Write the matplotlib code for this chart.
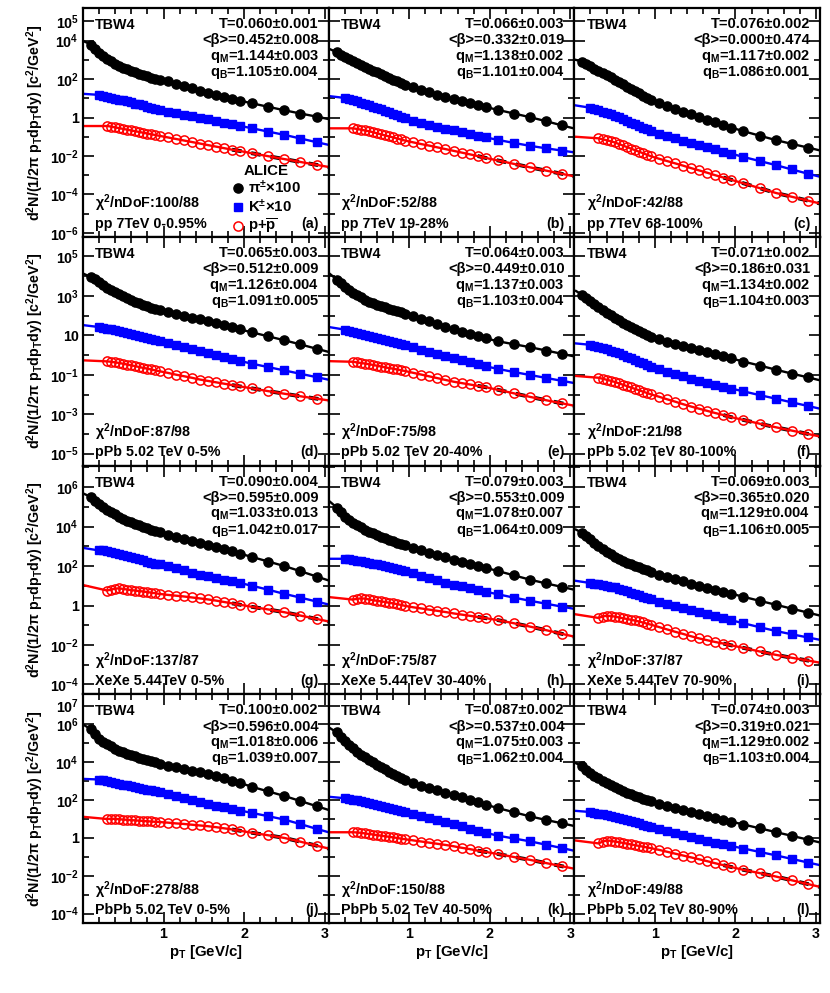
import numpy as np
import matplotlib
matplotlib.use("Agg")
import matplotlib.pyplot as plt
from matplotlib.ticker import FixedLocator, NullFormatter

plt.rcParams['font.family'] = ['Liberation Sans', 'DejaVu Sans']
plt.rcParams['font.weight'] = 'bold'
plt.rcParams['mathtext.fontset'] = 'custom'
plt.rcParams['mathtext.rm'] = 'Liberation Sans:bold'
plt.rcParams['mathtext.it'] = 'Liberation Sans:bold:italic'
plt.rcParams['mathtext.bf'] = 'Liberation Sans:bold'
plt.rcParams['mathtext.sf'] = 'Liberation Sans:bold'

# pT bins (GeV/c)
pt_pi = [0.10, 0.15, 0.20, 0.25, 0.30, 0.35, 0.40, 0.45, 0.50, 0.55, 0.60, 0.65, 0.70, 0.75, 0.80, 0.85, 0.90, 0.95,
         1.05, 1.15, 1.25, 1.35, 1.45, 1.55, 1.65, 1.75, 1.85, 1.95, 2.1, 2.3, 2.5, 2.7, 2.9]
pt_k = [0.20, 0.25, 0.30, 0.35, 0.40, 0.45, 0.50, 0.55, 0.60, 0.65, 0.70, 0.75, 0.80, 0.85, 0.90, 0.95,
        1.05, 1.15, 1.25, 1.35, 1.45, 1.55, 1.65, 1.75, 1.85, 1.95, 2.1, 2.3, 2.5, 2.7, 2.9]
pt_p = [0.30, 0.35, 0.40, 0.45, 0.50, 0.55, 0.60, 0.65, 0.70, 0.75, 0.80, 0.85, 0.90, 0.95,
        1.05, 1.15, 1.25, 1.35, 1.45, 1.55, 1.65, 1.75, 1.85, 1.95, 2.1, 2.3, 2.5, 2.7, 2.9]
# fit curves are drawn from these edges through the points
fit_pt_lo = 0.02
fit_pt_hi = 3.05

# log10 of yields (pi x100, K x10, p)
pi_a = [3.80, 3.58, 3.38, 3.20, 3.05, 2.92, 2.80, 2.69, 2.60, 2.51, 2.43, 2.35, 2.28, 2.21, 2.14, 2.08, 2.02, 1.96,
        1.88, 1.76, 1.64, 1.52, 1.40, 1.29, 1.18, 1.08, 0.98, 0.88, 0.74, 0.56, 0.38, 0.21, 0.05]
k_a = [1.18, 1.14, 1.09, 1.04, 0.99, 0.94, 0.89, 0.84, 0.79, 0.73, 0.68, 0.63, 0.57, 0.52, 0.46, 0.41,
       0.31, 0.23, 0.15, 0.07, -0.01, -0.09, -0.18, -0.26, -0.35, -0.43, -0.56, -0.73, -0.90, -1.09, -1.28]
p_a = [-0.44, -0.47, -0.51, -0.55, -0.59, -0.63, -0.67, -0.71, -0.75, -0.79, -0.83, -0.87, -0.91, -0.95,
       -1.03, -1.11, -1.19, -1.27, -1.35, -1.43, -1.51, -1.59, -1.67, -1.74, -1.86, -2.01, -2.16, -2.31, -2.46]

pi_b = [3.40, 3.27, 3.15, 3.04, 2.93, 2.83, 2.73, 2.63, 2.54, 2.44, 2.35, 2.25, 2.16, 2.07, 1.98, 1.89, 1.80, 1.72,
        1.57, 1.45, 1.32, 1.20, 1.08, 0.97, 0.86, 0.76, 0.65, 0.55, 0.40, 0.21, 0.02, -0.19, -0.41]
k_b = [1.02, 0.96, 0.90, 0.84, 0.78, 0.72, 0.65, 0.57, 0.49, 0.42, 0.34, 0.27, 0.19, 0.11, 0.04, -0.04,
       -0.17, -0.27, -0.37, -0.47, -0.57, -0.67, -0.76, -0.85, -0.94, -1.03, -1.16, -1.32, -1.47, -1.60, -1.72]
p_b = [-0.56, -0.59, -0.63, -0.67, -0.71, -0.76, -0.82, -0.87, -0.93, -0.98, -1.03, -1.09, -1.14, -1.20,
       -1.29, -1.38, -1.46, -1.55, -1.64, -1.73, -1.82, -1.91, -2.00, -2.10, -2.23, -2.41, -2.59, -2.76, -2.93]

pi_c = [2.90, 2.79, 2.67, 2.55, 2.43, 2.32, 2.20, 2.09, 1.98, 1.85, 1.73, 1.61, 1.49, 1.38, 1.27, 1.14, 1.03, 0.92,
        0.74, 0.60, 0.45, 0.31, 0.17, 0.03, -0.11, -0.24, -0.38, -0.52, -0.71, -0.94, -1.17, -1.37, -1.56]
k_c = [0.51, 0.45, 0.38, 0.31, 0.24, 0.17, 0.10, 0.01, -0.08, -0.17, -0.26, -0.34, -0.43, -0.52, -0.60, -0.69,
       -0.83, -0.95, -1.08, -1.20, -1.32, -1.44, -1.55, -1.66, -1.77, -1.88, -2.05, -2.26, -2.47, -2.70, -2.92]
p_c = [-1.08, -1.13, -1.18, -1.23, -1.29, -1.37, -1.45, -1.53, -1.61, -1.69, -1.77, -1.85, -1.93, -2.01,
       -2.14, -2.26, -2.38, -2.50, -2.63, -2.75, -2.87, -3.00, -3.12, -3.24, -3.42, -3.67, -3.92, -4.12, -4.32]

pi_d = [3.95, 3.84, 3.71, 3.56, 3.42, 3.30, 3.19, 3.08, 2.98, 2.89, 2.80, 2.71, 2.63, 2.55, 2.48, 2.41, 2.34, 2.28,
        2.17, 2.08, 1.99, 1.90, 1.81, 1.71, 1.61, 1.51, 1.40, 1.30, 1.15, 0.95, 0.75, 0.54, 0.32]
k_d = [1.42, 1.38, 1.34, 1.30, 1.25, 1.21, 1.17, 1.11, 1.06, 1.01, 0.96, 0.91, 0.86, 0.81, 0.76, 0.71,
       0.61, 0.51, 0.40, 0.30, 0.20, 0.10, 0.00, -0.10, -0.20, -0.30, -0.44, -0.61, -0.78, -0.95, -1.12]
p_d = [-0.32, -0.34, -0.37, -0.40, -0.44, -0.48, -0.52, -0.56, -0.61, -0.65, -0.69, -0.73, -0.78, -0.82,
       -0.90, -0.99, -1.07, -1.15, -1.24, -1.31, -1.38, -1.45, -1.52, -1.59, -1.69, -1.83, -1.96, -2.09, -2.21]

pi_e = [3.83, 3.63, 3.46, 3.30, 3.16, 3.04, 2.92, 2.81, 2.71, 2.63, 2.56, 2.49, 2.42, 2.36, 2.29, 2.22, 2.16, 2.10,
        1.98, 1.85, 1.71, 1.58, 1.44, 1.30, 1.18, 1.07, 0.96, 0.85, 0.70, 0.55, 0.40, 0.23, 0.06]
k_e = [1.29, 1.24, 1.19, 1.13, 1.08, 1.03, 0.98, 0.93, 0.87, 0.82, 0.76, 0.71, 0.66, 0.60, 0.55, 0.49,
       0.39, 0.28, 0.17, 0.06, -0.05, -0.15, -0.26, -0.36, -0.47, -0.57, -0.70, -0.86, -1.01, -1.16, -1.31]
p_e = [-0.34, -0.37, -0.40, -0.43, -0.46, -0.50, -0.54, -0.58, -0.62, -0.66, -0.69, -0.73, -0.77, -0.81,
       -0.90, -0.99, -1.08, -1.17, -1.26, -1.35, -1.42, -1.49, -1.56, -1.63, -1.76, -1.94, -2.12, -2.29, -2.45]

pi_f = [3.05, 2.88, 2.72, 2.57, 2.42, 2.28, 2.14, 2.01, 1.88, 1.76, 1.64, 1.53, 1.42, 1.32, 1.22, 1.12, 1.03, 0.94,
        0.79, 0.67, 0.56, 0.46, 0.36, 0.26, 0.15, 0.05, -0.06, -0.17, -0.33, -0.53, -0.74, -0.94, -1.13]
k_f = [0.52, 0.47, 0.41, 0.35, 0.29, 0.23, 0.17, 0.08, 0.00, -0.08, -0.17, -0.25, -0.34, -0.42, -0.50, -0.59,
       -0.73, -0.85, -0.96, -1.08, -1.19, -1.30, -1.40, -1.50, -1.60, -1.70, -1.84, -2.03, -2.21, -2.40, -2.58]
p_f = [-1.15, -1.20, -1.25, -1.30, -1.36, -1.43, -1.50, -1.57, -1.64, -1.71, -1.78, -1.85, -1.92, -1.99,
       -2.11, -2.24, -2.36, -2.49, -2.61, -2.72, -2.83, -2.94, -3.04, -3.15, -3.29, -3.48, -3.66, -3.83, -4.00]

pi_g = [5.50, 5.32, 5.16, 5.00, 4.86, 4.74, 4.62, 4.51, 4.40, 4.31, 4.22, 4.14, 4.06, 3.98, 3.91, 3.84, 3.77, 3.72,
        3.60, 3.49, 3.38, 3.28, 3.18, 3.07, 2.96, 2.85, 2.74, 2.63, 2.46, 2.23, 2.00, 1.74, 1.47]
k_g = [2.79, 2.79, 2.76, 2.71, 2.65, 2.60, 2.54, 2.49, 2.44, 2.39, 2.34, 2.29, 2.23, 2.18, 2.13, 2.08,
       1.98, 1.88, 1.78, 1.67, 1.57, 1.48, 1.39, 1.31, 1.23, 1.14, 1.00, 0.80, 0.59, 0.40, 0.20]
p_g = [0.76, 0.81, 0.86, 0.87, 0.84, 0.81, 0.78, 0.76, 0.73, 0.71, 0.68, 0.65, 0.62, 0.59,
       0.54, 0.50, 0.46, 0.41, 0.36, 0.31, 0.25, 0.18, 0.11, 0.04, -0.07, -0.20, -0.34, -0.51, -0.68]

pi_h = [4.97, 4.72, 4.51, 4.35, 4.20, 4.08, 3.96, 3.85, 3.75, 3.66, 3.57, 3.49, 3.41, 3.33, 3.26, 3.19, 3.12, 3.05,
        2.92, 2.80, 2.68, 2.56, 2.44, 2.32, 2.21, 2.11, 2.01, 1.91, 1.75, 1.53, 1.31, 1.12, 0.94]
k_h = [2.37, 2.35, 2.32, 2.28, 2.24, 2.20, 2.16, 2.12, 2.08, 2.04, 2.00, 1.95, 1.90, 1.85, 1.80, 1.76,
       1.64, 1.51, 1.39, 1.27, 1.16, 1.06, 0.97, 0.88, 0.79, 0.70, 0.57, 0.40, 0.24, 0.09, -0.06]
p_h = [0.30, 0.34, 0.36, 0.35, 0.31, 0.27, 0.24, 0.21, 0.18, 0.14, 0.11, 0.07, 0.03, -0.02,
       -0.09, -0.15, -0.21, -0.27, -0.33, -0.40, -0.46, -0.52, -0.58, -0.64, -0.74, -0.90, -1.07, -1.25, -1.44]

pi_i = [3.68, 3.51, 3.35, 3.18, 3.02, 2.88, 2.73, 2.59, 2.46, 2.36, 2.27, 2.18, 2.09, 2.01, 1.93, 1.85, 1.78, 1.72,
        1.57, 1.45, 1.33, 1.22, 1.11, 1.00, 0.90, 0.80, 0.70, 0.60, 0.44, 0.24, 0.04, -0.16, -0.36]
k_i = [1.14, 1.11, 1.07, 1.03, 0.99, 0.96, 0.92, 0.85, 0.78, 0.72, 0.65, 0.58, 0.52, 0.45, 0.39, 0.32,
       0.20, 0.09, -0.02, -0.13, -0.24, -0.35, -0.45, -0.55, -0.65, -0.75, -0.90, -1.10, -1.29, -1.46, -1.62]
p_i = [-0.63, -0.56, -0.52, -0.53, -0.56, -0.60, -0.64, -0.68, -0.72, -0.76, -0.81, -0.86, -0.92, -0.97,
       -1.09, -1.21, -1.33, -1.44, -1.56, -1.67, -1.76, -1.85, -1.93, -2.02, -2.15, -2.33, -2.50, -2.65, -2.79]

pi_j = [5.75, 5.49, 5.25, 5.09, 4.95, 4.84, 4.73, 4.62, 4.52, 4.45, 4.38, 4.31, 4.24, 4.17, 4.11, 4.05, 3.99, 3.93,
        3.83, 3.74, 3.65, 3.56, 3.47, 3.38, 3.27, 3.15, 3.03, 2.91, 2.70, 2.46, 2.22, 1.95, 1.68]
k_j = [3.09, 3.06, 3.02, 2.97, 2.92, 2.87, 2.82, 2.78, 2.74, 2.70, 2.66, 2.61, 2.56, 2.52, 2.47, 2.43,
       2.33, 2.22, 2.12, 2.01, 1.90, 1.80, 1.71, 1.63, 1.54, 1.45, 1.32, 1.15, 0.97, 0.73, 0.48]
p_j = [1.00, 1.01, 1.01, 0.99, 0.97, 0.96, 0.94, 0.93, 0.91, 0.90, 0.88, 0.87, 0.85, 0.84,
       0.81, 0.77, 0.74, 0.70, 0.66, 0.62, 0.57, 0.51, 0.45, 0.38, 0.27, 0.14, 0.00, -0.20, -0.41]

pi_k = [5.58, 5.33, 5.12, 4.92, 4.74, 4.57, 4.41, 4.26, 4.12, 3.99, 3.86, 3.74, 3.62, 3.50, 3.39, 3.28, 3.17, 3.07,
        2.89, 2.76, 2.64, 2.51, 2.39, 2.26, 2.14, 2.01, 1.89, 1.76, 1.58, 1.36, 1.14, 0.95, 0.77]
k_k = [2.10, 2.07, 2.03, 1.99, 1.95, 1.91, 1.86, 1.81, 1.76, 1.70, 1.65, 1.60, 1.54, 1.49, 1.44, 1.38,
       1.27, 1.16, 1.05, 0.94, 0.83, 0.72, 0.61, 0.49, 0.38, 0.27, 0.12, -0.03, -0.18, -0.36, -0.54]
p_k = [0.30, 0.29, 0.27, 0.24, 0.21, 0.18, 0.15, 0.12, 0.09, 0.06, 0.03, 0.00, -0.04, -0.07,
       -0.13, -0.19, -0.25, -0.31, -0.37, -0.44, -0.52, -0.59, -0.67, -0.74, -0.85, -1.01, -1.16, -1.33, -1.50]

pi_l = [3.79, 3.61, 3.45, 3.30, 3.16, 3.03, 2.90, 2.78, 2.67, 2.57, 2.48, 2.39, 2.30, 2.22, 2.14, 2.07, 2.00, 1.93,
        1.81, 1.69, 1.58, 1.47, 1.37, 1.27, 1.16, 1.06, 0.96, 0.86, 0.71, 0.51, 0.31, 0.11, -0.09]
k_l = [1.37, 1.33, 1.28, 1.24, 1.19, 1.15, 1.10, 1.04, 0.99, 0.93, 0.88, 0.82, 0.77, 0.71, 0.65, 0.60,
       0.48, 0.37, 0.26, 0.15, 0.04, -0.07, -0.16, -0.25, -0.34, -0.43, -0.56, -0.74, -0.92, -1.11, -1.30]
p_l = [-0.29, -0.20, -0.14, -0.15, -0.19, -0.22, -0.26, -0.30, -0.34, -0.38, -0.42, -0.46, -0.50, -0.54,
       -0.63, -0.73, -0.83, -0.93, -1.03, -1.13, -1.23, -1.34, -1.44, -1.54, -1.69, -1.86, -2.04, -2.24, -2.44]

# fit curve values at the panel edges [pi, K, p] (log10)
fit_lo = [[3.95, 1.23, -0.44], [3.55, 1.11, -0.56], [3.00, 0.63, -1.00],
          [4.10, 1.51, -0.27], [4.10, 1.41, -0.31], [3.25, 0.59, -1.06],
          [5.65, 2.91, 1.02], [5.25, 2.37, 0.42], [3.85, 1.25, -0.45],
          [5.95, 3.12, 1.11], [5.80, 2.17, 0.30], [3.95, 1.43, -0.14]]
fit_hi = [[-0.08, -1.42, -2.57], [-0.57, -1.81, -3.06], [-1.71, -3.08, -4.47],
          [0.16, -1.25, -2.30], [-0.07, -1.42, -2.57], [-1.28, -2.72, -4.13],
          [1.27, 0.05, -0.81], [0.80, -0.17, -1.58], [-0.51, -1.74, -2.90],
          [1.48, 0.30, -0.56], [0.63, -0.68, -1.63], [-0.24, -1.44, -2.59]]

pions = [pi_a, pi_b, pi_c, pi_d, pi_e, pi_f, pi_g, pi_h, pi_i, pi_j, pi_k, pi_l]
kaons = [k_a, k_b, k_c, k_d, k_e, k_f, k_g, k_h, k_i, k_j, k_k, k_l]
protons = [p_a, p_b, p_c, p_d, p_e, p_f, p_g, p_h, p_i, p_j, p_k, p_l]

T_vals = ["0.060±0.001", "0.066±0.003", "0.076±0.002", "0.065±0.003", "0.064±0.003", "0.071±0.002",
          "0.090±0.004", "0.079±0.003", "0.069±0.003", "0.100±0.002", "0.087±0.002", "0.074±0.003"]
beta_vals = ["0.452±0.008", "0.332±0.019", "0.000±0.474", "0.512±0.009", "0.449±0.010", "0.186±0.031",
             "0.595±0.009", "0.553±0.009", "0.365±0.020", "0.596±0.004", "0.537±0.004", "0.319±0.021"]
qM_vals = ["1.144±0.003", "1.138±0.002", "1.117±0.002", "1.126±0.004", "1.137±0.003", "1.134±0.002",
           "1.033±0.013", "1.078±0.007", "1.129±0.004", "1.018±0.006", "1.075±0.003", "1.129±0.002"]
qB_vals = ["1.105±0.004", "1.101±0.004", "1.086±0.001", "1.091±0.005", "1.103±0.004", "1.104±0.003",
           "1.042±0.017", "1.064±0.009", "1.106±0.005", "1.039±0.007", "1.062±0.004", "1.103±0.004"]
chi2_vals = ["100/88", "52/88", "42/88", "87/98", "75/98", "21/98",
             "137/87", "75/87", "37/87", "278/88", "150/88", "49/88"]
systems = ["pp 7TeV 0-0.95%", "pp 7TeV 19-28%", "pp 7TeV 68-100%",
           "pPb 5.02 TeV 0-5%", "pPb 5.02 TeV 20-40%", "pPb 5.02 TeV 80-100%",
           "XeXe 5.44TeV 0-5%", "XeXe 5.44TeV 30-40%", "XeXe 5.44TeV 70-90%",
           "PbPb 5.02 TeV 0-5%", "PbPb 5.02 TeV 40-50%", "PbPb 5.02 TeV 80-90%"]
tags = ["(a)", "(b)", "(c)", "(d)", "(e)", "(f)", "(g)", "(h)", "(i)", "(j)", "(k)", "(l)"]

# y range per row (log10) and labelled decades
row_ylim = [(-6.2, 5.7), (-5.6, 6.0), (-4.5, 7.1), (-4.5, 7.6)]
row_labels = [[5, 4, 2, 0, -2, -4, -6], [5, 3, 1, -1, -3, -5], [6, 4, 2, 0, -2, -4], [7, 6, 4, 2, 0, -2, -4]]


def dec_label(e):
    if e == 0:
        return "1"
    if e == 1:
        return "10"
    return "10$^{%d}$" % e


fig = plt.figure(figsize=(8.3, 9.93), dpi=100)
L, R, B, Tp = 83 / 830, 820 / 830, 1 - 923 / 993, 1 - 8 / 993
W = (R - L) / 3
H = (Tp - B) / 4

fs = 10.3
fs_par = 10.5
for i in range(12):
    row, col = divmod(i, 3)
    ax = fig.add_axes([L + col * W, Tp - (row + 1) * H, W, H])
    ax.set_yscale('log')
    ax.set_xlim(0, 3.05)
    lo, hi = row_ylim[row]
    ax.set_ylim(10 ** lo, 10 ** hi)

    series = [(pt_pi, pions[i], 'k', dict(marker='o', ms=6.6, mfc='k', mec='k')),
              (pt_k, kaons[i], '#0000ff', dict(marker='s', ms=5.8, mfc='#0000ff', mec='#0000ff')),
              (pt_p, protons[i], '#ff0000', dict(marker='o', ms=6.6, mfc='none', mec='#ff0000', mew=1.1))]
    handles = []
    for j, (pt, vals, c, mk) in enumerate(series):
        x_line = [fit_pt_lo] + pt + [fit_pt_hi]
        y_line = 10 ** np.array([fit_lo[i][j]] + vals + [fit_hi[i][j]])
        if j == 2:
            xs = np.array(x_line)
            m = xs >= 1.85
            ax.plot(xs[m], y_line[m], color='k', lw=2.8, ls=(0, (2.5, 2.5)), zorder=2)
        ax.plot(x_line, y_line, color=c, lw=1.7, zorder=2.5)
        h, = ax.plot(pt, 10 ** np.array(vals), ls='none', zorder=3, **mk)
        handles.append(h)

    # ticks
    ax.yaxis.set_major_locator(FixedLocator([10.0 ** e for e in row_labels[row]]))
    ax.yaxis.set_minor_locator(FixedLocator([10.0 ** e for e in range(-8, 9)]))
    ax.yaxis.set_minor_formatter(NullFormatter())
    ax.xaxis.set_major_locator(FixedLocator([1, 2, 3]))
    ax.xaxis.set_minor_locator(FixedLocator(np.arange(0.2, 3.05, 0.2)))
    ax.tick_params(which='both', direction='in', top=True, right=True, width=1.2)
    ax.tick_params(which='major', length=8)
    ax.tick_params(which='minor', length=4)
    ax.tick_params(axis='both', labelsize=fs, pad=3)
    if col == 0:
        ax.set_yticklabels([dec_label(e) for e in row_labels[row]])
        ax.text(-0.195, 0.5, r"d$^{2}$N/(1/2π p$_{\rm T}$dp$_{\rm T}$dy) [c$^{2}$/GeV$^{2}$]",
                transform=ax.transAxes, rotation=90, ha='center', va='center', fontsize=fs)
    else:
        ax.set_yticklabels([])
    if row == 3:
        ax.set_xticklabels(["1", "2", "3"])
        ax.text(0.5, -0.125, r"p$_{\rm T}$ [GeV/c]", transform=ax.transAxes,
                ha='center', va='center', fontsize=fs + 0.5)
    else:
        ax.set_xticklabels([])
    for s in ax.spines.values():
        s.set_linewidth(1.6)

    # annotations
    ax.text(0.05, 0.925, "TBW4", transform=ax.transAxes, ha='left', va='center', fontsize=fs)
    lines = ["T=" + T_vals[i], "<β>=" + beta_vals[i],
             r"q$_{\rm M}$=" + qM_vals[i], r"q$_{\rm B}$=" + qB_vals[i]]
    for n, t in enumerate(lines):
        ax.text(0.96, 0.93 - n * 0.071, t, transform=ax.transAxes, ha='right', va='center', fontsize=fs_par)
    ax.text(0.05, 0.145, "χ$^{2}$/nDoF:" + chi2_vals[i], transform=ax.transAxes,
            ha='left', va='center', fontsize=fs)
    ax.text(0.05, 0.057, systems[i], transform=ax.transAxes, ha='left', va='center', fontsize=fs)
    ax.text(0.96, 0.057, tags[i], transform=ax.transAxes, ha='right', va='center', fontsize=fs)

    if i == 0:
        leg = ax.legend(handles, [r"π$^{\pm}$×100", r"K$^{\pm}$×10", r"p+$\overline{\rm p}$"],
                        title="ALICE", loc='lower right', bbox_to_anchor=(0.9, -0.01),
                        frameon=False, fontsize=fs + 0.5, title_fontsize=fs + 0.5,
                        handlelength=0.8, handletextpad=0.3, labelspacing=0.1,
                        borderpad=0.2, borderaxespad=0.0)
        leg.get_title().set_fontweight('bold')

fig.savefig("out.png", dpi=100)
